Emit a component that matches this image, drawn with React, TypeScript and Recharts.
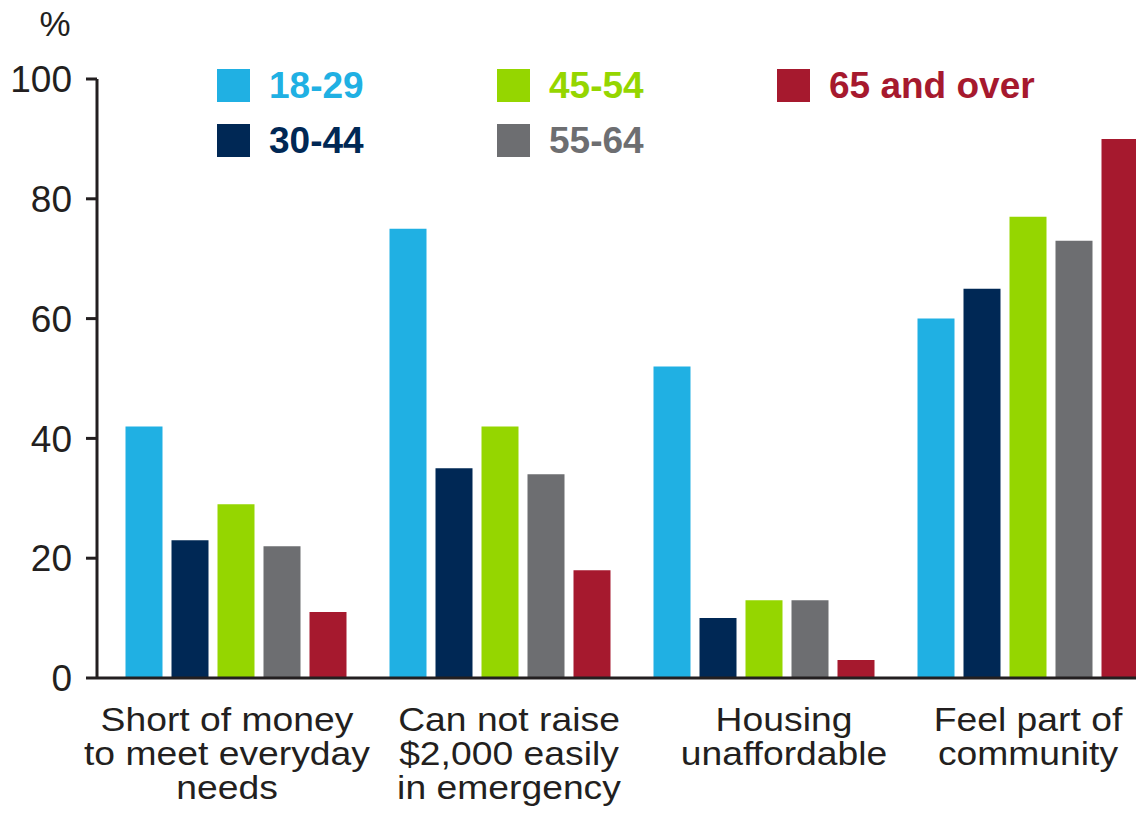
import { BarChart, Bar, XAxis, YAxis, Legend } from "recharts";

const categories = [
  "Short of money\nto meet everyday\nneeds",
  "Can not raise\n$2,000 easily\nin emergency",
  "Housing\nunaffordable",
  "Feel part of\ncommunity",
];
const age18to29 = [42, 75, 52, 60];
const age30to44 = [23, 35, 10, 65];
const age45to54 = [29, 42, 13, 77];
const age55to64 = [22, 34, 13, 73];
const age65plus = [11, 18, 3, 90];
const yTicks = [0, 20, 40, 60, 80, 100];

const series = [
  { key: "a18", name: "18-29", values: age18to29, color: "#20b0e3" },
  { key: "a30", name: "30-44", values: age30to44, color: "#002855" },
  { key: "a45", name: "45-54", values: age45to54, color: "#95d600" },
  { key: "a55", name: "55-64", values: age55to64, color: "#6d6e71" },
  { key: "a65", name: "65 and over", values: age65plus, color: "#a6192e" },
];

const data = categories.map((cat, i) => {
  const row: Record<string, string | number> = { category: cat };
  series.forEach((s) => (row[s.key] = s.values[i]));
  return row;
});

const INK = "#231f20";
// small horizontal shifts of the category labels, as in the source slide
const LABEL_NUDGE = [-9, 9, 20, 0];

function CategoryTick({ x, y, payload, index }: any) {
  const lines = String(payload.value).split("\n");
  const nudge = LABEL_NUDGE[index] ?? 0;
  return (
    <g transform={`translate(${x + nudge},${y + 53})`}>
      <text textAnchor="middle" fontSize={33} fill={INK} transform="scale(1.13,1)">
        {lines.map((line, i) => (
          <tspan key={i} x={0} y={i * 34}>
            {line}
          </tspan>
        ))}
      </text>
    </g>
  );
}

function LegendBlock({ payload }: any) {
  return (
    <div style={{ position: "relative", width: 1136, height: 170 }}>
      {(payload || []).map((item: any, i: number) => {
        const col = Math.floor(i / 2);
        const row = i % 2;
        return (
          <div
            key={item.value}
            style={{
              position: "absolute",
              left: 217 + col * 280,
              top: 69 + row * 55,
              height: 33,
              display: "flex",
              alignItems: "center",
              whiteSpace: "nowrap",
            }}
          >
            <div style={{ width: 33, height: 33, background: item.color }} />
            <span
              style={{
                marginLeft: 19,
                fontSize: 37,
                fontWeight: 700,
                lineHeight: "33px",
                color: item.color,
              }}
            >
              {item.value}
            </span>
          </div>
        );
      })}
    </div>
  );
}

export default function App() {
  return (
    <div
      style={{
        position: "absolute",
        left: 0,
        top: 0,
        width: 1136,
        height: 825,
        overflow: "hidden",
        background: "#fff",
        fontFamily: '"Liberation Sans", Arial, sans-serif',
      }}
    >
      <svg width={120} height={50} style={{ position: "absolute", left: 0, top: 0 }}>
        <text x={55} y={36} textAnchor="middle" fontSize={35} fill={INK}>
          %
        </text>
      </svg>
      <BarChart
        width={1160}
        height={825}
        data={data}
        margin={{ top: 79, right: 0, bottom: 0, left: 0 }}
        barCategoryGap={21.5}
        barGap={9}
      >
        <XAxis
          dataKey="category"
          height={147}
          tickLine={false}
          tickSize={0}
          tickMargin={0}
          padding={{ left: 7, right: 0 }}
          axisLine={{ stroke: INK, strokeWidth: 3 }}
          tick={<CategoryTick />}
          interval={0}
        />
        <YAxis
          width={97}
          domain={[0, 100]}
          ticks={yTicks}
          tickSize={11}
          tickMargin={14}
          axisLine={{ stroke: INK, strokeWidth: 3 }}
          tickLine={{ stroke: INK, strokeWidth: 3 }}
          tick={{ fontSize: 37, fill: INK }}
        />
        <Legend
          layout="horizontal"
          verticalAlign="middle"
          align="center"
          wrapperStyle={{ left: 0, top: 0, width: 1136 }}
          content={<LegendBlock />}
        />
        {series.map((s) => (
          <Bar
            key={s.key}
            dataKey={s.key}
            name={s.name}
            fill={s.color}
            isAnimationActive={false}
          />
        ))}
      </BarChart>
    </div>
  );
}
